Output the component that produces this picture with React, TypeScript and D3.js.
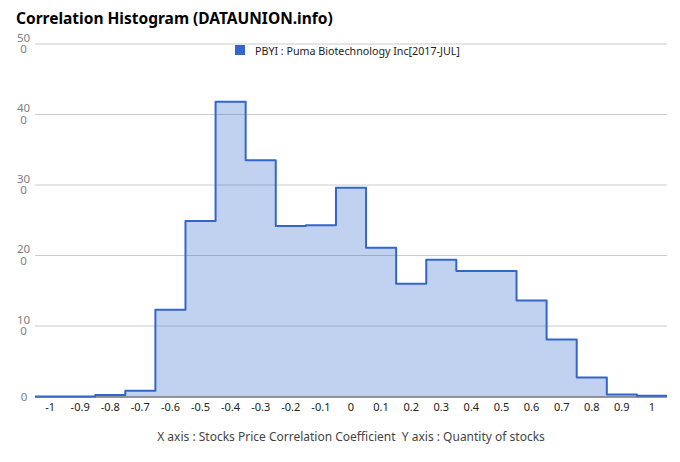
import React from "react";
import * as d3 from "d3";

const categories: number[] = [-1, -0.9, -0.8, -0.7, -0.6, -0.5, -0.4, -0.3, -0.2, -0.1, 0, 0.1, 0.2, 0.3, 0.4, 0.5, 0.6, 0.7, 0.8, 0.9, 1];
const counts: number[] = [0, 0, 2, 8, 123, 249, 418, 335, 242, 243, 296, 211, 160, 194, 178, 178, 136, 81, 27, 3, 1];
const yTicks: number[] = [0, 100, 200, 300, 400, 500];
const seriesName = "PBYI : Puma Biotechnology Inc[2017-JUL]";
const title = "Correlation Histogram (DATAUNION.info)";
const axisTitle = "X axis : Stocks Price Correlation Coefficient  Y axis : Quantity of stocks";

const W = 680, H = 462;
const left = 35, right = 667, top = 44, bottom = 396.5;
const FONT = "'Noto Sans', 'DejaVu Sans', sans-serif";

export default function App() {
  const x = d3.scaleBand<number>().domain(categories).range([left, right]).padding(0);
  const y = d3.scaleLinear().domain([0, 500]).range([bottom, top]);

  const pts: [number, number][] = [];
  categories.forEach((c, i) => {
    const x0 = x(c)!;
    pts.push([x0, counts[i]]);
    pts.push([x0 + x.bandwidth(), counts[i]]);
  });
  const line = d3.line<[number, number]>().x(d => d[0]).y(d => y(d[1]));
  const area = d3.area<[number, number]>().x(d => d[0]).y0(y(0)).y1(d => y(d[1]));

  const fmtX = (v: number) => (Math.round(v * 10) / 10).toString();

  return (
    <svg width={W} height={H} style={{ display: "block", position: "absolute", left: 0, top: 0, background: "#fff" }}>
      <text x={16} y={24} fontFamily={FONT} fontSize={15.5} fontWeight="bold" fill="#000">{title}</text>
      {yTicks.map(t => {
        const s = String(t);
        const yy = y(t);
        if (s.length > 2) {
          return (
            <g key={t}>
              <line x1={left} x2={right} y1={yy} y2={yy} stroke="#cccccc" strokeWidth={1} />
              <text textAnchor="middle" fontFamily={FONT} fontSize={11.5} fill="#808080">
                <tspan x={23.5} y={yy - 2.5}>{s.slice(0, 2)}</tspan>
                <tspan x={23.5} y={yy + 9}>{s.slice(2)}</tspan>
              </text>
            </g>
          );
        }
        return (
          <text key={t} x={24} y={yy + 4} textAnchor="middle" fontFamily={FONT} fontSize={11.5} fill="#808080">{s}</text>
        );
      })}
      <path d={area(pts) || ""} fill="#3366cc" fillOpacity={0.3} />
      <line x1={left} x2={right} y1={bottom + 0.5} y2={bottom + 0.5} stroke="#333" strokeWidth={1} />
      <path d={line(pts) || ""} fill="none" stroke="#3366cc" strokeWidth={2} strokeLinejoin="round" />
      {categories.map(c => (
        <text key={c} x={x(c)! + x.bandwidth() / 2} y={411} textAnchor="middle" fontFamily={FONT} fontSize={11} fill="#222">{fmtX(c)}</text>
      ))}
      <rect x={235} y={45} width={10} height={10} fill="#3366cc" />
      <text x={255} y={54.5} fontFamily={FONT} fontSize={10.7} fill="#222">{seriesName}</text>
      <text x={351} y={441} textAnchor="middle" fontFamily={FONT} fontSize={12} fill="#444" style={{ whiteSpace: "pre" }}>{axisTitle}</text>
    </svg>
  );
}
